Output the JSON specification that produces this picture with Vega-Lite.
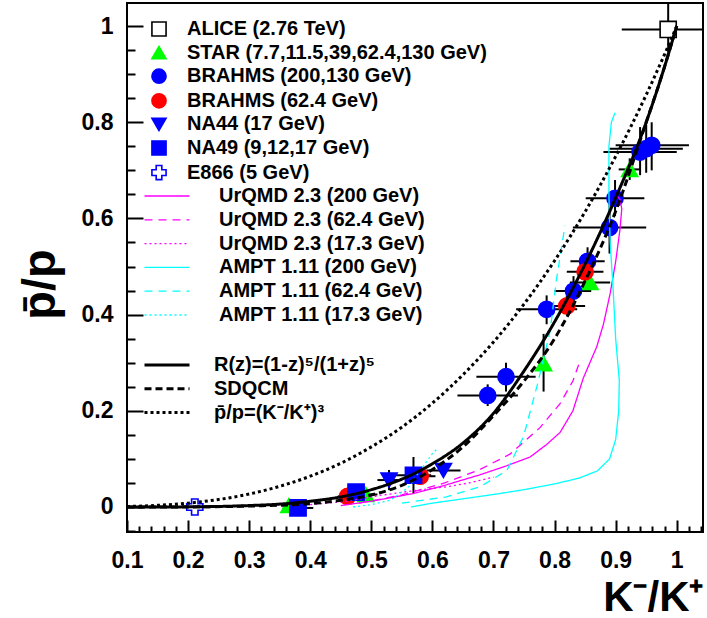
{
  "$schema": "https://vega.github.io/schema/vega-lite/v6.json",
  "width": 576,
  "height": 529,
  "autosize": "none",
  "padding": {"left": 127, "top": 3, "right": 4, "bottom": 86},
  "background": "white",
  "config": {
    "view": {"stroke": "black", "strokeWidth": 2},
    "font": "Liberation Sans",
    "axis": {"labelFont": "Liberation Sans", "labelFontWeight": "bold", "labelColor": "black", "labelFontSize": 23, "titleFont": "Liberation Sans", "titleFontWeight": "bold", "titleColor": "black", "grid": false},
    "legend": {"labelFont": "Liberation Sans", "labelFontSize": 20, "labelFontWeight": "bold", "labelColor": "black", "labelLimit": 600, "rowPadding": 3.8, "orient": "none", "padding": 0}
  },
  "datasets": {
    "theory": [
      {"curve": "R(z)=(1-z)⁵/(1+z)⁵", "x": 0.10, "y": 0.0},
      {"curve": "R(z)=(1-z)⁵/(1+z)⁵", "x": 0.20, "y": 0.0003},
      {"curve": "R(z)=(1-z)⁵/(1+z)⁵", "x": 0.30, "y": 0.003},
      {"curve": "R(z)=(1-z)⁵/(1+z)⁵", "x": 0.35, "y": 0.006},
      {"curve": "R(z)=(1-z)⁵/(1+z)⁵", "x": 0.40, "y": 0.012},
      {"curve": "R(z)=(1-z)⁵/(1+z)⁵", "x": 0.45, "y": 0.021},
      {"curve": "R(z)=(1-z)⁵/(1+z)⁵", "x": 0.50, "y": 0.036},
      {"curve": "R(z)=(1-z)⁵/(1+z)⁵", "x": 0.55, "y": 0.058},
      {"curve": "R(z)=(1-z)⁵/(1+z)⁵", "x": 0.60, "y": 0.090},
      {"curve": "R(z)=(1-z)⁵/(1+z)⁵", "x": 0.65, "y": 0.133},
      {"curve": "R(z)=(1-z)⁵/(1+z)⁵", "x": 0.70, "y": 0.195},
      {"curve": "R(z)=(1-z)⁵/(1+z)⁵", "x": 0.75, "y": 0.283},
      {"curve": "R(z)=(1-z)⁵/(1+z)⁵", "x": 0.80, "y": 0.385},
      {"curve": "R(z)=(1-z)⁵/(1+z)⁵", "x": 0.85, "y": 0.505},
      {"curve": "R(z)=(1-z)⁵/(1+z)⁵", "x": 0.90, "y": 0.643},
      {"curve": "R(z)=(1-z)⁵/(1+z)⁵", "x": 0.95, "y": 0.800},
      {"curve": "R(z)=(1-z)⁵/(1+z)⁵", "x": 0.975, "y": 0.895},
      {"curve": "R(z)=(1-z)⁵/(1+z)⁵", "x": 1.0, "y": 1.0},
      {"curve": "SDQCM", "x": 0.10, "y": 0.0},
      {"curve": "SDQCM", "x": 0.20, "y": 0.0002},
      {"curve": "SDQCM", "x": 0.30, "y": 0.002},
      {"curve": "SDQCM", "x": 0.40, "y": 0.007},
      {"curve": "SDQCM", "x": 0.45, "y": 0.014},
      {"curve": "SDQCM", "x": 0.50, "y": 0.025},
      {"curve": "SDQCM", "x": 0.55, "y": 0.045},
      {"curve": "SDQCM", "x": 0.60, "y": 0.078},
      {"curve": "SDQCM", "x": 0.65, "y": 0.125},
      {"curve": "SDQCM", "x": 0.70, "y": 0.190},
      {"curve": "SDQCM", "x": 0.75, "y": 0.262},
      {"curve": "SDQCM", "x": 0.80, "y": 0.350},
      {"curve": "SDQCM", "x": 0.85, "y": 0.470},
      {"curve": "SDQCM", "x": 0.90, "y": 0.615},
      {"curve": "SDQCM", "x": 0.95, "y": 0.800},
      {"curve": "SDQCM", "x": 0.975, "y": 0.895},
      {"curve": "SDQCM", "x": 1.0, "y": 1.0},
      {"curve": "p̄/p=(K⁻/K⁺)³", "x": 0.10, "y": 0.001},
      {"curve": "p̄/p=(K⁻/K⁺)³", "x": 0.15, "y": 0.0034},
      {"curve": "p̄/p=(K⁻/K⁺)³", "x": 0.20, "y": 0.008},
      {"curve": "p̄/p=(K⁻/K⁺)³", "x": 0.25, "y": 0.0156},
      {"curve": "p̄/p=(K⁻/K⁺)³", "x": 0.30, "y": 0.027},
      {"curve": "p̄/p=(K⁻/K⁺)³", "x": 0.35, "y": 0.043},
      {"curve": "p̄/p=(K⁻/K⁺)³", "x": 0.40, "y": 0.064},
      {"curve": "p̄/p=(K⁻/K⁺)³", "x": 0.45, "y": 0.091},
      {"curve": "p̄/p=(K⁻/K⁺)³", "x": 0.50, "y": 0.125},
      {"curve": "p̄/p=(K⁻/K⁺)³", "x": 0.55, "y": 0.166},
      {"curve": "p̄/p=(K⁻/K⁺)³", "x": 0.60, "y": 0.216},
      {"curve": "p̄/p=(K⁻/K⁺)³", "x": 0.65, "y": 0.275},
      {"curve": "p̄/p=(K⁻/K⁺)³", "x": 0.70, "y": 0.343},
      {"curve": "p̄/p=(K⁻/K⁺)³", "x": 0.75, "y": 0.422},
      {"curve": "p̄/p=(K⁻/K⁺)³", "x": 0.80, "y": 0.512},
      {"curve": "p̄/p=(K⁻/K⁺)³", "x": 0.85, "y": 0.614},
      {"curve": "p̄/p=(K⁻/K⁺)³", "x": 0.90, "y": 0.729},
      {"curve": "p̄/p=(K⁻/K⁺)³", "x": 0.95, "y": 0.857},
      {"curve": "p̄/p=(K⁻/K⁺)³", "x": 0.98, "y": 0.941},
      {"curve": "p̄/p=(K⁻/K⁺)³", "x": 1.0, "y": 1.0}
    ],
    "models": [
      {"model": "UrQMD 2.3 (200 GeV)", "i": 1, "x": 0.45, "y": 0.003},
      {"model": "UrQMD 2.3 (200 GeV)", "i": 2, "x": 0.50, "y": 0.012},
      {"model": "UrQMD 2.3 (200 GeV)", "i": 3, "x": 0.569, "y": 0.028},
      {"model": "UrQMD 2.3 (200 GeV)", "i": 4, "x": 0.62, "y": 0.045},
      {"model": "UrQMD 2.3 (200 GeV)", "i": 5, "x": 0.678, "y": 0.067},
      {"model": "UrQMD 2.3 (200 GeV)", "i": 6, "x": 0.72, "y": 0.085},
      {"model": "UrQMD 2.3 (200 GeV)", "i": 7, "x": 0.76, "y": 0.104},
      {"model": "UrQMD 2.3 (200 GeV)", "i": 8, "x": 0.787, "y": 0.13},
      {"model": "UrQMD 2.3 (200 GeV)", "i": 9, "x": 0.809, "y": 0.155},
      {"model": "UrQMD 2.3 (200 GeV)", "i": 10, "x": 0.83, "y": 0.2},
      {"model": "UrQMD 2.3 (200 GeV)", "i": 11, "x": 0.847, "y": 0.268},
      {"model": "UrQMD 2.3 (200 GeV)", "i": 12, "x": 0.869, "y": 0.333},
      {"model": "UrQMD 2.3 (200 GeV)", "i": 13, "x": 0.88, "y": 0.38},
      {"model": "UrQMD 2.3 (200 GeV)", "i": 14, "x": 0.891, "y": 0.444},
      {"model": "UrQMD 2.3 (200 GeV)", "i": 15, "x": 0.9, "y": 0.51},
      {"model": "UrQMD 2.3 (200 GeV)", "i": 16, "x": 0.907, "y": 0.576},
      {"model": "UrQMD 2.3 (200 GeV)", "i": 17, "x": 0.91, "y": 0.62},
      {"model": "UrQMD 2.3 (200 GeV)", "i": 18, "x": 0.907, "y": 0.64},
      {"model": "UrQMD 2.3 (200 GeV)", "i": 19, "x": 0.902, "y": 0.647},
      {"model": "UrQMD 2.3 (62.4 GeV)", "i": 1, "x": 0.48, "y": 0.008},
      {"model": "UrQMD 2.3 (62.4 GeV)", "i": 2, "x": 0.55, "y": 0.025},
      {"model": "UrQMD 2.3 (62.4 GeV)", "i": 3, "x": 0.62, "y": 0.05},
      {"model": "UrQMD 2.3 (62.4 GeV)", "i": 4, "x": 0.678, "y": 0.078},
      {"model": "UrQMD 2.3 (62.4 GeV)", "i": 5, "x": 0.727, "y": 0.11},
      {"model": "UrQMD 2.3 (62.4 GeV)", "i": 6, "x": 0.776, "y": 0.165},
      {"model": "UrQMD 2.3 (62.4 GeV)", "i": 7, "x": 0.809, "y": 0.215},
      {"model": "UrQMD 2.3 (62.4 GeV)", "i": 8, "x": 0.83, "y": 0.262},
      {"model": "UrQMD 2.3 (62.4 GeV)", "i": 9, "x": 0.842, "y": 0.305},
      {"model": "UrQMD 2.3 (17.3 GeV)", "i": 1, "x": 0.40, "y": 0.005},
      {"model": "UrQMD 2.3 (17.3 GeV)", "i": 2, "x": 0.46, "y": 0.012},
      {"model": "UrQMD 2.3 (17.3 GeV)", "i": 3, "x": 0.514, "y": 0.024},
      {"model": "UrQMD 2.3 (17.3 GeV)", "i": 4, "x": 0.57, "y": 0.034},
      {"model": "UrQMD 2.3 (17.3 GeV)", "i": 5, "x": 0.623, "y": 0.042},
      {"model": "UrQMD 2.3 (17.3 GeV)", "i": 6, "x": 0.66, "y": 0.05},
      {"model": "UrQMD 2.3 (17.3 GeV)", "i": 7, "x": 0.70, "y": 0.062},
      {"model": "AMPT 1.11 (200 GeV)", "i": 1, "x": 0.565, "y": 0.0},
      {"model": "AMPT 1.11 (200 GeV)", "i": 2, "x": 0.6, "y": 0.008},
      {"model": "AMPT 1.11 (200 GeV)", "i": 3, "x": 0.65, "y": 0.017},
      {"model": "AMPT 1.11 (200 GeV)", "i": 4, "x": 0.7, "y": 0.026},
      {"model": "AMPT 1.11 (200 GeV)", "i": 5, "x": 0.75, "y": 0.036},
      {"model": "AMPT 1.11 (200 GeV)", "i": 6, "x": 0.8, "y": 0.048},
      {"model": "AMPT 1.11 (200 GeV)", "i": 7, "x": 0.84, "y": 0.06},
      {"model": "AMPT 1.11 (200 GeV)", "i": 8, "x": 0.87, "y": 0.075},
      {"model": "AMPT 1.11 (200 GeV)", "i": 9, "x": 0.89, "y": 0.1},
      {"model": "AMPT 1.11 (200 GeV)", "i": 10, "x": 0.9, "y": 0.14},
      {"model": "AMPT 1.11 (200 GeV)", "i": 11, "x": 0.905, "y": 0.2},
      {"model": "AMPT 1.11 (200 GeV)", "i": 12, "x": 0.906, "y": 0.263},
      {"model": "AMPT 1.11 (200 GeV)", "i": 13, "x": 0.9, "y": 0.35},
      {"model": "AMPT 1.11 (200 GeV)", "i": 14, "x": 0.896, "y": 0.45},
      {"model": "AMPT 1.11 (200 GeV)", "i": 15, "x": 0.891, "y": 0.55},
      {"model": "AMPT 1.11 (200 GeV)", "i": 16, "x": 0.889, "y": 0.65},
      {"model": "AMPT 1.11 (200 GeV)", "i": 17, "x": 0.889, "y": 0.75},
      {"model": "AMPT 1.11 (200 GeV)", "i": 18, "x": 0.893, "y": 0.8},
      {"model": "AMPT 1.11 (200 GeV)", "i": 19, "x": 0.899, "y": 0.82},
      {"model": "AMPT 1.11 (62.4 GeV)", "i": 1, "x": 0.55, "y": 0.008},
      {"model": "AMPT 1.11 (62.4 GeV)", "i": 2, "x": 0.623, "y": 0.021},
      {"model": "AMPT 1.11 (62.4 GeV)", "i": 3, "x": 0.678, "y": 0.042},
      {"model": "AMPT 1.11 (62.4 GeV)", "i": 4, "x": 0.722, "y": 0.076},
      {"model": "AMPT 1.11 (62.4 GeV)", "i": 5, "x": 0.749, "y": 0.146},
      {"model": "AMPT 1.11 (62.4 GeV)", "i": 6, "x": 0.772, "y": 0.255},
      {"model": "AMPT 1.11 (62.4 GeV)", "i": 7, "x": 0.793, "y": 0.368},
      {"model": "AMPT 1.11 (62.4 GeV)", "i": 8, "x": 0.803, "y": 0.472},
      {"model": "AMPT 1.11 (62.4 GeV)", "i": 9, "x": 0.817, "y": 0.585},
      {"model": "AMPT 1.11 (17.3 GeV)", "i": 1, "x": 0.47, "y": 0.0},
      {"model": "AMPT 1.11 (17.3 GeV)", "i": 2, "x": 0.5, "y": 0.005},
      {"model": "AMPT 1.11 (17.3 GeV)", "i": 3, "x": 0.531, "y": 0.014},
      {"model": "AMPT 1.11 (17.3 GeV)", "i": 4, "x": 0.56, "y": 0.04},
      {"model": "AMPT 1.11 (17.3 GeV)", "i": 5, "x": 0.58, "y": 0.076},
      {"model": "AMPT 1.11 (17.3 GeV)", "i": 6, "x": 0.60, "y": 0.111},
      {"model": "AMPT 1.11 (17.3 GeV)", "i": 7, "x": 0.607, "y": 0.12}
    ],
    "points": [
      {"exp": "ALICE (2.76 TeV)", "x": 0.986, "y": 0.993, "xlo": 0.91, "xhi": 1.07, "ylo": 0.945, "yhi": 1.07},
      {"exp": "STAR (7.7,11.5,39,62.4,130 GeV)", "x": 0.365, "y": 0.003, "xlo": 0.355, "xhi": 0.375},
      {"exp": "STAR (7.7,11.5,39,62.4,130 GeV)", "x": 0.491, "y": 0.026, "xlo": 0.47, "xhi": 0.51},
      {"exp": "STAR (7.7,11.5,39,62.4,130 GeV)", "x": 0.782, "y": 0.298, "ylo": 0.24, "yhi": 0.36},
      {"exp": "STAR (7.7,11.5,39,62.4,130 GeV)", "x": 0.858, "y": 0.467, "xlo": 0.825, "xhi": 0.891, "ylo": 0.45, "yhi": 0.485},
      {"exp": "STAR (7.7,11.5,39,62.4,130 GeV)", "x": 0.923, "y": 0.702, "xlo": 0.905, "xhi": 0.94, "ylo": 0.68, "yhi": 0.725},
      {"exp": "BRAHMS (200,130 GeV)", "x": 0.959, "y": 0.752, "xlo": 0.90, "xhi": 1.02, "ylo": 0.70, "yhi": 0.80},
      {"exp": "BRAHMS (200,130 GeV)", "x": 0.950, "y": 0.745, "xlo": 0.89, "xhi": 1.01, "ylo": 0.695, "yhi": 0.795},
      {"exp": "BRAHMS (200,130 GeV)", "x": 0.940, "y": 0.738, "xlo": 0.88, "xhi": 1.0, "ylo": 0.69, "yhi": 0.79},
      {"exp": "BRAHMS (200,130 GeV)", "x": 0.899, "y": 0.642, "xlo": 0.851, "xhi": 0.947, "ylo": 0.605, "yhi": 0.68},
      {"exp": "BRAHMS (200,130 GeV)", "x": 0.890, "y": 0.581, "xlo": 0.83, "xhi": 0.95, "ylo": 0.527, "yhi": 0.635},
      {"exp": "BRAHMS (200,130 GeV)", "x": 0.854, "y": 0.511, "xlo": 0.826, "xhi": 0.882, "ylo": 0.48, "yhi": 0.54},
      {"exp": "BRAHMS (200,130 GeV)", "x": 0.831, "y": 0.449, "xlo": 0.80, "xhi": 0.86, "ylo": 0.42, "yhi": 0.48},
      {"exp": "BRAHMS (200,130 GeV)", "x": 0.787, "y": 0.411, "xlo": 0.737, "xhi": 0.837, "ylo": 0.38, "yhi": 0.44},
      {"exp": "BRAHMS (200,130 GeV)", "x": 0.7205, "y": 0.271, "xlo": 0.672, "xhi": 0.769, "ylo": 0.24, "yhi": 0.30},
      {"exp": "BRAHMS (200,130 GeV)", "x": 0.6905, "y": 0.232, "xlo": 0.641, "xhi": 0.74, "ylo": 0.21, "yhi": 0.255},
      {"exp": "BRAHMS (62.4 GeV)", "x": 0.850, "y": 0.489, "xlo": 0.82, "xhi": 0.88, "ylo": 0.47, "yhi": 0.51},
      {"exp": "BRAHMS (62.4 GeV)", "x": 0.820, "y": 0.418, "xlo": 0.79, "xhi": 0.85, "ylo": 0.40, "yhi": 0.44},
      {"exp": "BRAHMS (62.4 GeV)", "x": 0.580, "y": 0.064, "xlo": 0.555, "xhi": 0.605},
      {"exp": "BRAHMS (62.4 GeV)", "x": 0.461, "y": 0.022, "xlo": 0.445, "xhi": 0.477},
      {"exp": "NA44 (17 GeV)", "x": 0.529, "y": 0.056, "xlo": 0.51, "xhi": 0.55, "ylo": 0.035, "yhi": 0.077},
      {"exp": "NA44 (17 GeV)", "x": 0.618, "y": 0.076, "xlo": 0.59, "xhi": 0.646},
      {"exp": "NA49 (9,12,17 GeV)", "x": 0.38, "y": -0.002, "xlo": 0.355, "xhi": 0.405},
      {"exp": "NA49 (9,12,17 GeV)", "x": 0.475, "y": 0.031, "xlo": 0.455, "xhi": 0.495},
      {"exp": "NA49 (9,12,17 GeV)", "x": 0.569, "y": 0.066, "xlo": 0.54, "xhi": 0.598, "ylo": 0.028, "yhi": 0.104},
      {"exp": "E866 (5 GeV)", "x": 0.211, "y": 0.0}
    ]
  },
  "resolve": {
    "scale": {"strokeDash": "independent", "color": "independent"},
    "axis": {"x": "independent", "y": "independent"}
  },
  "layer": [
    {
      "data": {"name": "points"},
      "mark": {"type": "rule", "strokeWidth": 2, "color": "black", "clip": true},
      "encoding": {
        "x": {"field": "xlo", "type": "quantitative", "scale": {"domain": [0.1, 1.043], "nice": false, "zero": false},
          "axis": {"orient": "bottom", "values": [0.12,0.14,0.16,0.18,0.22,0.24,0.26,0.28,0.32,0.34,0.36,0.38,0.42,0.44,0.46,0.48,0.52,0.54,0.56,0.58,0.62,0.64,0.66,0.68,0.72,0.74,0.76,0.78,0.82,0.84,0.86,0.88,0.92,0.94,0.96,0.98,1.02,1.04], "labels": false, "domain": false, "ticks": true, "tickSize": 6, "offset": -6, "tickWidth": 2, "tickColor": "black", "title": null}},
        "x2": {"field": "xhi"},
        "y": {"field": "y", "type": "quantitative", "scale": {"domain": [-0.052, 1.048], "nice": false, "zero": false},
          "axis": {"orient": "left", "values": [-0.05,0.05,0.1,0.15,0.25,0.3,0.35,0.45,0.5,0.55,0.65,0.7,0.75,0.85,0.9,0.95,1.05], "labels": false, "domain": false, "ticks": true, "tickSize": 8, "offset": -8, "tickWidth": 2, "tickColor": "black", "title": null}}
      }
    },
    {
      "data": {"name": "points"},
      "mark": {"type": "rule", "strokeWidth": 2, "color": "black", "clip": true},
      "encoding": {
        "x": {"field": "x", "type": "quantitative", "axis": null},
        "y": {"field": "ylo", "type": "quantitative", "axis": null},
        "y2": {"field": "yhi"}
      }
    },
    {
      "data": {"name": "points"},
      "mark": {"type": "point", "opacity": 1, "strokeWidth": 1.6, "size": 260},
      "encoding": {
        "x": {"field": "x", "type": "quantitative", "axis": null},
        "y": {"field": "y", "type": "quantitative", "axis": null},
        "shape": {"field": "exp", "type": "nominal",
          "scale": {"domain": ["ALICE (2.76 TeV)", "STAR (7.7,11.5,39,62.4,130 GeV)", "BRAHMS (200,130 GeV)", "BRAHMS (62.4 GeV)", "NA44 (17 GeV)", "NA49 (9,12,17 GeV)", "E866 (5 GeV)"],
                    "range": ["square", "triangle-up", "circle", "circle", "triangle-down", "square", "cross"]},
          "legend": {"title": null, "orient": "none", "legendX": 22, "legendY": 16, "symbolSize": 200, "labelOffset": 18, "rowPadding": 2.6, "symbolStrokeWidth": 1.6}},
        "fill": {"field": "exp", "type": "nominal",
          "scale": {"domain": ["ALICE (2.76 TeV)", "STAR (7.7,11.5,39,62.4,130 GeV)", "BRAHMS (200,130 GeV)", "BRAHMS (62.4 GeV)", "NA44 (17 GeV)", "NA49 (9,12,17 GeV)", "E866 (5 GeV)"],
                    "range": ["#ffffff", "#00ff00", "#0000ff", "#ff0000", "#0000ff", "#0000ff", "#ffffff"]},
          "legend": {"title": null, "orient": "none", "legendX": 22, "legendY": 16, "symbolSize": 200, "labelOffset": 18, "rowPadding": 2.6, "symbolStrokeWidth": 1.6}},
        "stroke": {"field": "exp", "type": "nominal",
          "scale": {"domain": ["ALICE (2.76 TeV)", "STAR (7.7,11.5,39,62.4,130 GeV)", "BRAHMS (200,130 GeV)", "BRAHMS (62.4 GeV)", "NA44 (17 GeV)", "NA49 (9,12,17 GeV)", "E866 (5 GeV)"],
                    "range": ["#000000", "#00ff00", "#0000ff", "#ff0000", "#0000ff", "#0000ff", "#0000ff"]},
          "legend": {"title": null, "orient": "none", "legendX": 22, "legendY": 16, "symbolSize": 200, "labelOffset": 18, "rowPadding": 2.6, "symbolStrokeWidth": 1.6}}
      }
    },
    {
      "data": {"name": "models"},
      "mark": {"type": "line", "strokeWidth": 1.3, "clip": true},
      "encoding": {
        "x": {"field": "x", "type": "quantitative",
          "axis": {"orient": "bottom", "values": [0.1,0.2,0.3,0.4,0.5,0.6,0.7,0.8,0.9,1.0], "labels": false, "domain": false, "ticks": true, "tickSize": 12, "offset": -12, "tickWidth": 2, "tickColor": "black", "title": null}},
        "y": {"field": "y", "type": "quantitative",
          "axis": {"orient": "left", "values": [0,0.2,0.4,0.6,0.8,1.0], "labels": false, "domain": false, "ticks": true, "tickSize": 16, "offset": -16, "tickWidth": 2, "tickColor": "black", "title": null}},
        "order": {"field": "i", "type": "quantitative"},
        "color": {"field": "model", "type": "nominal",
          "scale": {"domain": ["UrQMD 2.3 (200 GeV)", "UrQMD 2.3 (62.4 GeV)", "UrQMD 2.3 (17.3 GeV)", "AMPT 1.11 (200 GeV)", "AMPT 1.11 (62.4 GeV)", "AMPT 1.11 (17.3 GeV)"],
                    "range": ["#ff00ff", "#ff00ff", "#ff00ff", "#00ffff", "#00ffff", "#00ffff"]},
          "legend": {"title": null, "orient": "none", "legendX": 30, "legendY": 183, "symbolType": "M-3,0H3", "symbolSize": 225, "labelOffset": 42, "symbolStrokeWidth": 1.3}},
        "strokeDash": {"field": "model", "type": "nominal",
          "scale": {"domain": ["UrQMD 2.3 (200 GeV)", "UrQMD 2.3 (62.4 GeV)", "UrQMD 2.3 (17.3 GeV)", "AMPT 1.11 (200 GeV)", "AMPT 1.11 (62.4 GeV)", "AMPT 1.11 (17.3 GeV)"],
                    "range": [[1, 0], [8, 6], [2, 3], [1, 0], [8, 6], [2, 3]]},
          "legend": {"title": null, "orient": "none", "legendX": 30, "legendY": 183, "symbolType": "M-3,0H3", "symbolSize": 225, "labelOffset": 42, "symbolStrokeWidth": 1.3}}
      }
    },
    {
      "data": {"name": "theory"},
      "mark": {"type": "line", "strokeWidth": 3, "color": "black", "interpolate": "monotone", "clip": true},
      "encoding": {
        "x": {"field": "x", "type": "quantitative",
          "axis": {"orient": "bottom", "values": [0.1,0.2,0.3,0.4,0.5,0.6,0.7,0.8,0.9,1.0], "format": "~g", "ticks": false, "domain": false, "labelPadding": 17, "labelOverlap": false, "labelFlush": false, "labelBound": false,
            "title": "K⁻/K⁺", "titleFontSize": 42, "titleX": 576, "titleY": 78, "titleAlign": "right", "titleBaseline": "alphabetic", "titleAnchor": null}},
        "y": {"field": "y", "type": "quantitative",
          "axis": {"orient": "left", "values": [0,0.2,0.4,0.6,0.8,1.0], "format": "~g", "ticks": false, "domain": false, "labelPadding": 14, "labelOverlap": false, "labelFlush": false, "labelBound": false,
            "title": "p̄/p", "titleFontSize": 47, "titleAngle": -90, "titleX": -73, "titleY": 281, "titleAlign": "center", "titleBaseline": "alphabetic", "titleAnchor": null}},
        "strokeDash": {"field": "curve", "type": "nominal",
          "scale": {"domain": ["R(z)=(1-z)⁵/(1+z)⁵", "SDQCM", "p̄/p=(K⁻/K⁺)³"], "range": [[1, 0], [7, 4], [3, 3]]},
          "legend": {"title": null, "orient": "none", "legendX": 30, "legendY": 352, "symbolType": "M-3,0H3", "symbolSize": 225, "labelOffset": 37, "symbolStrokeWidth": 3, "symbolStrokeColor": "black"}}
      }
    }
  ]
}
